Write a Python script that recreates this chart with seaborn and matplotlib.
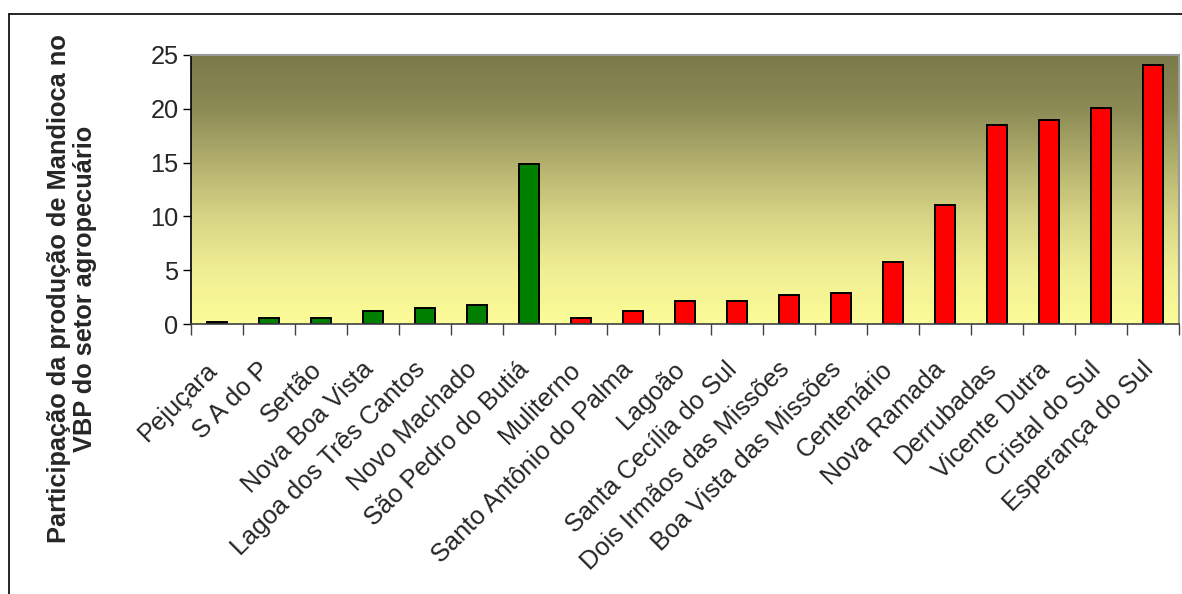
import numpy as np
import pandas as pd
import matplotlib
matplotlib.use("Agg")
import matplotlib.pyplot as plt
from matplotlib.colors import LinearSegmentedColormap
from matplotlib.lines import Line2D
from matplotlib.transforms import ScaledTranslation
import seaborn as sns

# Share of cassava production in the agricultural gross production value (%)
municipios = [
    "Pejuçara", "S A do P", "Sertão", "Nova Boa Vista", "Lagoa dos Três Cantos",
    "Novo Machado", "São Pedro do Butiá", "Muliterno", "Santo Antônio do Palma",
    "Lagoão", "Santa Cecília do Sul", "Dois Irmãos das Missões",
    "Boa Vista das Missões", "Centenário", "Nova Ramada", "Derrubadas",
    "Vicente Dutra", "Cristal do Sul", "Esperança do Sul",
]
participacao = [
    0.2, 0.55, 0.55, 1.25, 1.45, 1.8, 14.85, 0.55, 1.25,
    2.15, 2.15, 2.7, 2.9, 5.8, 11.05, 18.45, 18.95, 20.1, 24.1,
]
grupo = ["A"] * 7 + ["B"] * 12
yticks = [0, 5, 10, 15, 20, 25]

df = pd.DataFrame({"municipio": municipios, "valor": participacao, "grupo": grupo})

sns.set_theme(style="white")
plt.rcParams["font.family"] = ["Liberation Sans", "DejaVu Sans"]

W, H = 1182, 594
FS = 18.3
fig = plt.figure(figsize=(W / 100, H / 100), dpi=100)
ax = fig.add_axes([191 / W, 1 - 324 / H, (1179 - 191) / W, (324 - 55) / H])

# vertical olive-to-yellow gradient background
grad = LinearSegmentedColormap.from_list(
    "olive_yellow",
    [(0.00, "#7A794A"), (0.20, "#8C8B55"), (0.40, "#B3B06E"),
     (0.60, "#D7D485"), (0.80, "#F0EE94"), (1.00, "#FCFC98")],
)
ax.imshow(np.linspace(0, 1, 256).reshape(-1, 1), cmap=grad, aspect="auto",
          extent=(-0.5, len(municipios) - 0.5, 0, 25), zorder=0,
          interpolation="bilinear")

sns.barplot(data=df, x="municipio", y="valor", hue="grupo",
            palette={"A": "#008000", "B": "#FF0000"}, saturation=1,
            dodge=False, width=0.4, edgecolor="black", linewidth=1.4,
            legend=False, ax=ax, zorder=2)

ax.set_xlim(-0.5, len(municipios) - 0.5)
ax.set_ylim(0, 25)
ax.set_yticks(yticks)
ax.set_yticklabels([str(t) for t in yticks], fontsize=FS)
ax.tick_params(axis="y", direction="out", length=6, width=1, color="black",
               left=True, pad=3)

ax.set_xticks(range(len(municipios)))
ax.set_xticklabels(municipios, rotation=45, ha="right",
                   rotation_mode="anchor", fontsize=FS)
ax.tick_params(axis="x", which="major", length=0, pad=24)
shift = ScaledTranslation(-0.12, 0, fig.dpi_scale_trans)
for lbl in ax.get_xticklabels():
    lbl.set_transform(lbl.get_transform() + shift)
ax.set_xticks(np.arange(-0.5, len(municipios), 1.0), minor=True)
ax.tick_params(axis="x", which="minor", direction="out", length=8,
               width=1, color="#404040", bottom=True)

ax.set_xlabel("")
ax.set_ylabel("")

for side in ["top", "right"]:
    ax.spines[side].set_color("#9A9A9A")
    ax.spines[side].set_linewidth(1.5)
ax.spines["left"].set_color("black")
ax.spines["left"].set_linewidth(1.2)
ax.spines["bottom"].set_color("#404040")
ax.spines["bottom"].set_linewidth(1.2)

fig.text(72 / W, 1 - 289 / H,
         "Participação da produção de Mandioca no\nVBP do setor agropecuário",
         rotation=90, ha="center", va="center", multialignment="center",
         fontsize=FS, fontweight="bold", linespacing=1.15)

# outer chart frame
fig.add_artist(Line2D([9 / W, 9 / W], [0, 1 - 14 / H], transform=fig.transFigure,
                      color="black", linewidth=1.2))
fig.add_artist(Line2D([9 / W, 1], [1 - 14 / H, 1 - 14 / H], transform=fig.transFigure,
                      color="black", linewidth=1.2))

fig.savefig("out.png", dpi=100, facecolor="white")
